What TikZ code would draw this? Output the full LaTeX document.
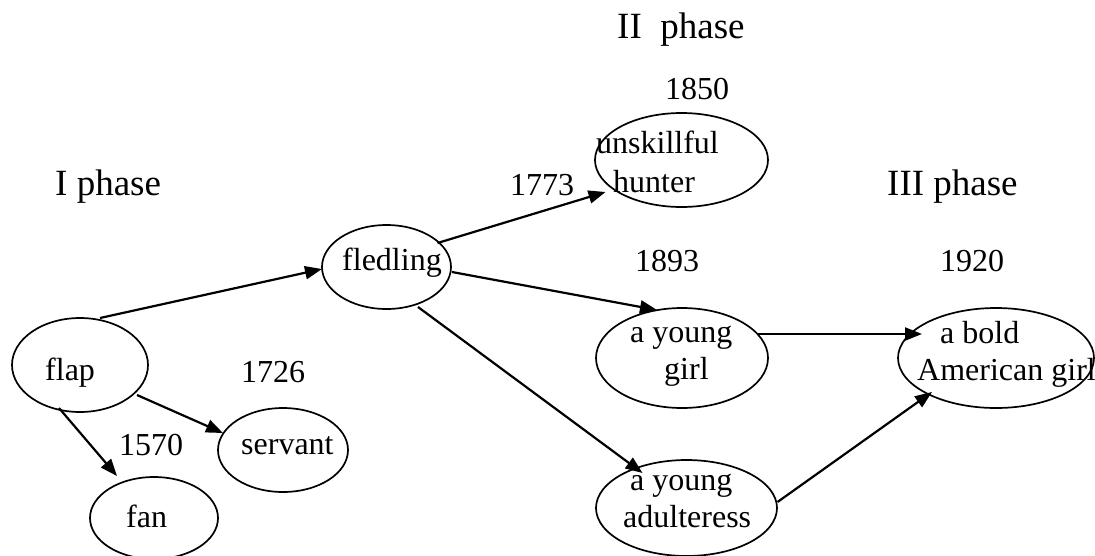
\documentclass[tikz,border=0pt]{standalone}
\usepackage{fontspec}
\setmainfont{Liberation Serif}
\usetikzlibrary{shapes.geometric,arrows.meta,calc}
\begin{document}
\begin{tikzpicture}[x=1pt,y=-1pt,
  ell/.style={draw,ellipse,line width=1.7pt,inner sep=0pt},
  txt/.style={anchor=base west,inner sep=0pt,font=\fontsize{32}{37}\selectfont},
  phasetxt/.style={anchor=base west,inner sep=0pt,font=\fontsize{37}{42}\selectfont},
  arr/.style={line width=2.2pt,-{Triangle[length=17pt,width=13pt]}}]
\useasboundingbox (0,0) rectangle (1095,555);
% ellipses
\node[ell,minimum width=136pt,minimum height=94pt] (flap) at (80,365) {};
\node[ell,minimum width=128pt,minimum height=82pt] (fan) at (154,518) {};
\node[ell,minimum width=130pt,minimum height=84pt] (servant) at (283,450) {};
\node[ell,minimum width=129pt,minimum height=84pt] (fledling) at (386.5,267) {};
\node[ell,minimum width=173pt,minimum height=94pt] (hunter) at (681.5,160) {};
\node[ell,minimum width=172pt,minimum height=100pt] (ygirl) at (682,358) {};
\node[ell,minimum width=181pt,minimum height=96pt] (adult) at (686.5,508) {};
\node[ell,minimum width=196pt,minimum height=100pt] (bold) at (996,358) {};
% texts in ellipses
\node[txt] (tflap) at (45,380) {flap};
\node[txt] (tfan) at (126,527) {fan};
\node[txt] (tservant) at (241,454) {servant};
\node[txt] (tfledling) at (342,270) {fledling};
\node[txt] (thunter1) at (596,153) {unskillful};
\node[txt] (thunter2) at (613,192) {hunter};
\node[txt] (tygirl1) at (630,342) {a young};
\node[txt] (tygirl2) at (664,379) {girl};
\node[txt] (tadult1) at (630,490) {a young};
\node[txt] (tadult2) at (623,527) {adulteress};
\node[txt] (tbold1) at (940,343) {a bold};
\node[txt] (tbold2) at (917,380) {American girl};
% years
\node[txt] (y1570) at (119,455) {1570};
\node[txt] (y1726) at (241,382) {1726};
\node[txt] (y1773) at (510,195) {1773};
\node[txt] (y1850) at (665,99) {1850};
\node[txt] (y1893) at (635,271) {1893};
\node[txt] (y1920) at (940,271) {1920};
% phases
\node[phasetxt] (p1) at (55,195) {I phase};
\node[phasetxt] (p2) at (617,38) {II\ \ phase};
\node[phasetxt] (p3) at (887,195) {III phase};
% arrows
\draw[arr] ($(flap)+(20,-47)$) -- ($(fledling)+(-64.5,2)$);
\draw[arr] ($(flap)+(57,30)$) -- ($(servant)+(-60,-17)$);
\draw[arr] ($(flap)+(-21,43)$) -- ($(fan)+(-37,-42)$);
\draw[arr] ($(fledling)+(51,-24)$) -- ($(hunter)+(-76,32)$);
\draw[arr] ($(fledling)+(65.5,5)$) -- ($(ygirl)+(-25,-48)$);
\draw[arr] ($(fledling)+(31.5,40)$) -- ($(adult)+(-44,-35)$);
\draw[arr] ($(ygirl)+(76,-24)$) -- ($(bold)+(-74,-24)$);
\draw[arr] ($(adult)+(91,-6)$) -- ($(bold)+(-64,34)$);
\end{tikzpicture}
\end{document}
